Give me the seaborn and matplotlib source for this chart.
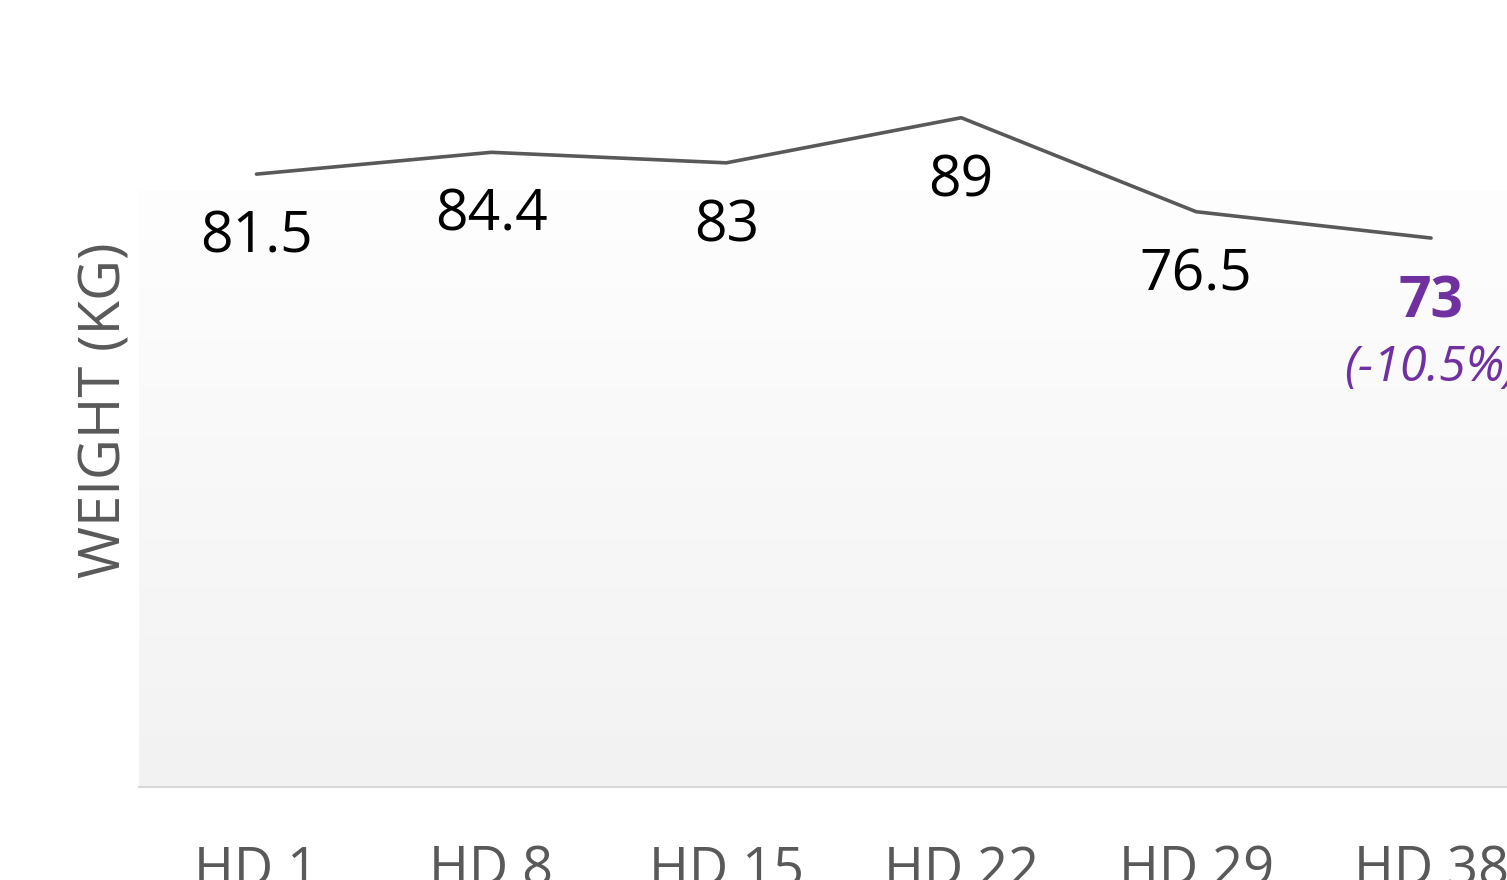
import numpy as np
import pandas as pd
import matplotlib
matplotlib.use("Agg")
import matplotlib.pyplot as plt
import seaborn as sns
from matplotlib.colors import LinearSegmentedColormap

categories = ["HD 1", "HD 8", "HD 15", "HD 22", "HD 29", "HD 38"]
weights = [81.5, 84.4, 83, 89, 76.5, 73]
value_labels = ["81.5", "84.4", "83", "89", "76.5", "73"]
change_label = "(-10.5%)"
y_title = "WEIGHT (KG)"

sns.set_theme(style="white")
plt.rcParams["font.family"] = ["Open Sans", "DejaVu Sans"]

df = pd.DataFrame({"day": categories, "weight": weights})

W, H = 1507, 880
fig = plt.figure(figsize=(W / 100, H / 100), dpi=100)
fig.patch.set_facecolor("white")
left_px, right_px, top_px, bottom_px = 139, 1548.5, 190, 787
ax = fig.add_axes([left_px / W, (H - bottom_px) / H,
                   (right_px - left_px) / W, (bottom_px - top_px) / H])
ax.set_facecolor("none")

# gradient background of plot area (light at top, grey at bottom)
grad = np.linspace(0, 1, 256).reshape(-1, 1)
cmap = LinearSegmentedColormap.from_list("g", ["#fefefe", "#f2f2f2"])
ax.imshow(grad, aspect="auto", cmap=cmap, extent=[0, 1, 0, 1], origin="upper",
          transform=ax.transAxes, zorder=0, interpolation="bilinear")

sns.lineplot(data=df, x="day", y="weight", ax=ax, color="#595959",
             linewidth=2.6, solid_capstyle="round", zorder=3, clip_on=False,
             sort=False)

ax.set_xlim(-0.5, 5.5)
ax.set_ylim(0, (bottom_px - top_px) / 7.52)

for i, (v, lab) in enumerate(zip(weights, value_labels)):
    if i == len(weights) - 1:
        ax.annotate(lab, (i, v), xytext=(0, -64), textcoords="offset pixels",
                    ha="center", va="center", fontsize=41, color="#7030A0",
                    fontweight="bold", annotation_clip=False)
        ax.annotate(change_label, (i, v), xytext=(0, -130), textcoords="offset pixels",
                    ha="center", va="center", fontsize=35, color="#7030A0",
                    fontstyle="italic", annotation_clip=False)
    else:
        ax.annotate(lab, (i, v), xytext=(0, -64), textcoords="offset pixels",
                    ha="center", va="center", fontsize=41, color="black",
                    annotation_clip=False)

for s in ["top", "right", "left"]:
    ax.spines[s].set_visible(False)
ax.spines["bottom"].set_color("#d9d9d9")
ax.spines["bottom"].set_linewidth(1.5)
ax.set_yticks([])
ax.tick_params(axis="x", length=0, pad=41, labelsize=39, labelcolor="#595959")
ax.set_xlabel("")
ax.set_ylabel("")

fig.text(106 / W, 1 - 410 / H, y_title, rotation=90, ha="center", va="center",
         fontsize=40.5, color="#595959")

fig.savefig("out.png", dpi=100)
